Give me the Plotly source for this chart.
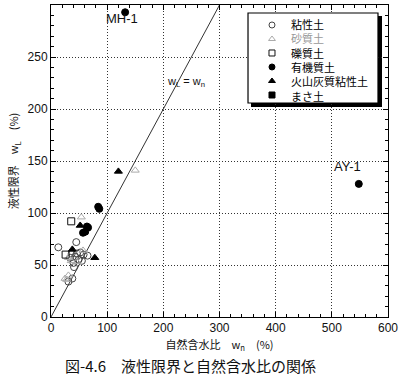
import plotly.graph_objects as go

# ---- data (w_n, w_L) ----
clay_wn = [45, 13, 37, 46, 52, 58, 65, 43, 34, 49, 55, 40, 41, 38, 31]
clay_wl = [72, 67, 61, 61, 62, 60, 59, 58, 57, 55, 54, 52, 48, 37, 34]

sand_wn = [150, 54, 57, 31, 36, 46, 25, 28, 31]
sand_wl = [141, 96, 64, 57, 54, 53, 37, 36, 40]

gravel_wn = [36, 26]
gravel_wl = [92, 60]

organic_wn = [132, 548, 84, 86, 64, 66, 57, 61]
organic_wl = [293, 128, 106, 104, 87, 86, 81, 82]

volcanic_wn = [120, 52, 38, 78]
volcanic_wl = [140, 88, 65, 57]

masa_wn = []
masa_wl = []

line_wn = [0, 300]
line_wl = [0, 300]

legend_names = ["粘性土", "砂質土", "礫質土", "有機質土", "火山灰質粘性土", "まさ土"]
legend_text_colors = ["#000000", "#999999", "#000000", "#000000", "#000000", "#000000"]

x_ticks = [0, 100, 200, 300, 400, 500, 600]
y_ticks = [0, 50, 100, 150, 200, 250, 300]

labels = [("MH-1", 132, 293, -3, -6), ("AY-1", 548, 128, -11, 17)]

FONT = "Liberation Sans, Arial, 'Noto Sans CJK JP', sans-serif"
JFONT = "'Noto Sans CJK JP', Liberation Sans, sans-serif"

styles = [
    dict(symbol="circle-open", color="#444444"),
    dict(symbol="triangle-up-open", color="#aaaaaa"),
    dict(symbol="square-open", color="#111111"),
    dict(symbol="circle", color="#000000"),
    dict(symbol="triangle-up", color="#000000"),
    dict(symbol="square", color="#000000"),
]
series = [(clay_wn, clay_wl), (sand_wn, sand_wl), (gravel_wn, gravel_wl),
          (organic_wn, organic_wl), (volcanic_wn, volcanic_wl), (masa_wn, masa_wl)]

fig = go.Figure()

fig.add_trace(go.Scatter(x=line_wn, y=line_wl, mode="lines",
                         line=dict(color="#333333", width=1), showlegend=False,
                         xaxis="x", yaxis="y"))

for (xs, ys), st, nm in zip(series, styles, legend_names):
    fig.add_trace(go.Scatter(
        x=xs, y=ys, mode="markers", name=nm, showlegend=False,
        marker=dict(symbol=st["symbol"], size=7, color=st["color"],
                    line=dict(color=st["color"], width=1)),
        xaxis="x", yaxis="y"))

# legend inset (markers on categorical axis)
for st, nm in zip(styles, legend_names):
    fig.add_trace(go.Scatter(
        x=[0], y=[nm], mode="markers", showlegend=False,
        marker=dict(symbol=st["symbol"], size=6, color=st["color"],
                    line=dict(color=st["color"], width=1)),
        xaxis="x2", yaxis="y2"))

legend_text = "<br>".join(
    f"<span style='color:{c}'>{n}</span>" for n, c in zip(legend_names, legend_text_colors))

annotations = [dict(x=0, y=(len(legend_names) - 1) / 2, xref="x2", yref="y2",
                    text=legend_text, showarrow=False, align="left",
                    xanchor="left", yanchor="middle", xshift=17,
                    font=dict(family=JFONT, size=11, color="#000000"))]

for txt, lx, ly, xs, ys in labels:
    annotations.append(dict(x=lx, y=ly, xref="x", yref="y", text=txt, showarrow=False,
                            xshift=xs, yshift=ys,
                            font=dict(family=FONT, size=13, color="#111111")))

annotations.append(dict(x=240, y=226, xref="x", yref="y",
                        text="w<sub>L</sub> = w<sub>n</sub>", showarrow=False,
                        font=dict(family=FONT, size=11, color="#111111")))

annotations.append(dict(x=0.4125, y=-0.154, xref="paper", yref="paper",
                        text="図-4.6　液性限界と自然含水比の関係", showarrow=False,
                        xanchor="center", yanchor="middle",
                        font=dict(family=JFONT, size=15, color="#111111")))

shapes = [
    dict(type="rect", xref="paper", yref="paper", x0=0.5935, x1=0.9822, y0=0.6731, y1=0.9647,
         fillcolor="#000000", line=dict(width=0), layer="below"),
    dict(type="rect", xref="x2 domain", yref="y2 domain", x0=0, x1=1, y0=0, y1=1,
         line=dict(color="#000000", width=1.2), layer="above"),
]

axis_common = dict(showline=True, linecolor="#000000", linewidth=1, mirror="ticks",
                   ticks="inside", ticklen=5, tickcolor="#000000",
                   showgrid=True, gridcolor="#333333", gridwidth=1, griddash="1px,2px",
                   zeroline=False, automargin=False,
                   tickfont=dict(family=FONT, size=12, color="#111111"))

fig.update_layout(
    width=400, height=378,
    margin=dict(l=51, r=12, t=5, b=61),
    paper_bgcolor="white", plot_bgcolor="white",
    showlegend=False,
    xaxis=dict(range=[0, 600], tickvals=x_ticks,
               minor=dict(dtick=20, ticklen=3, ticks="inside", tickcolor="#000000"),
               title=dict(text="自然含水比　w<sub>n</sub>　(%)", standoff=6,
                          font=dict(family=JFONT, size=11, color="#111111")),
               **axis_common),
    yaxis=dict(range=[0, 300], tickvals=y_ticks,
               minor=dict(dtick=10, ticklen=3, ticks="inside", tickcolor="#000000"),
               title=dict(text="液性限界　w<sub>L</sub>　(%)", standoff=6,
                          font=dict(family=JFONT, size=11, color="#111111")),
               **axis_common),
    xaxis2=dict(domain=[0.5846, 0.9703], range=[-1, 4.42], visible=False, anchor="y2",
                fixedrange=True),
    yaxis2=dict(domain=[0.6859, 0.9744], type="category", categoryorder="array",
                categoryarray=legend_names, range=[5.571, -0.857], visible=False, anchor="x2",
                fixedrange=True),
    annotations=annotations,
    shapes=shapes,
)

fig.write_html("out.html", config={"displayModeBar": False},
               post_script="document.body.style.margin='0';")
